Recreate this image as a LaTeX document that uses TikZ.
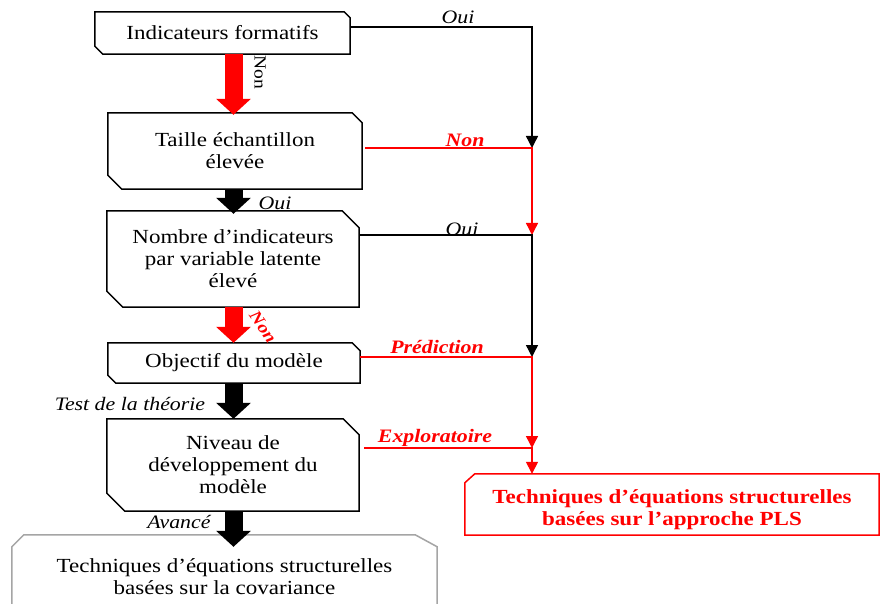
\documentclass[tikz,border=0pt]{standalone}
\usepackage{fontspec}
\setmainfont{Liberation Serif}[FakeStretch=1.15]
\usetikzlibrary{arrows.meta,calc}
\newcommand\boxfont{\fontsize{20}{22}\selectfont}
\newcommand\labfont{\fontsize{19}{20}\selectfont}
\newcommand\chamfbox[3]{%
  \draw[outline] (#1.north west) -- ($(#1.north east)+(-#2,0)$) -- ($(#1.north east)+(0,#2)$)
    -- (#1.south east) -- ($(#1.south west)+(#3,0)$) -- ($(#1.south west)+(0,-#3)$) -- cycle;}
\definecolor{boxgray}{RGB}{165,165,165}
\begin{document}
\begin{tikzpicture}[x=1pt,y=-1pt,
  box/.style={rectangle, inner sep=0pt, align=center, font=\boxfont},
  outline/.style={line width=1.5pt, line join=miter},
  lab/.style={inner sep=0pt, font=\labfont\itshape},
  redlab/.style={inner sep=0pt, font=\labfont\bfseries\itshape, text=red},
  thinarr/.style={line width=1.4pt, -{Triangle[width=12pt,length=12pt]}},
  blockarr/.style={line width=18pt, -{Triangle[width=34pt,length=16pt]}}]
\clip (0,0) rectangle (881,604);
\fill[white] (0,0) rectangle (881,604);

% boxes
\node[box, minimum width=255pt, minimum height=42pt] (b1) at (222.5,33) {Indicateurs formatifs};
\node[box, minimum width=254pt, minimum height=76pt] (b2) at (235,151) {Taille échantillon\\élevée};
\node[box, minimum width=252pt, minimum height=96pt] (b3) at (233,259) {Nombre d’indicateurs\\par variable latente\\élevé};
\node[box, minimum width=252pt, minimum height=40pt] (b4) at (234,363) {Objectif du modèle};
\node[box, minimum width=252pt, minimum height=92pt] (b5) at (233,465) {Niveau de\\développement du\\modèle};
\node[box, minimum width=425pt, minimum height=83pt] (b6) at (224.5,576.5) {Techniques d’équations structurelles\\basées sur la covariance};
\node[box, minimum width=414pt, minimum height=61pt, text=red, font=\boxfont\bfseries] (b7) at (672,504.5) {\rule{0pt}{25pt}Techniques d’équations structurelles\\basées sur l’approche PLS};

\chamfbox{b1}{6}{8}
\chamfbox{b2}{10}{14}
\chamfbox{b3}{17}{16}
\chamfbox{b4}{8}{8}
\chamfbox{b5}{16}{18}
\draw[outline, boxgray] (b6.south west) -- ($(b6.north west)+(0,12)$) -- ($(b6.north west)+(12,0)$)
  -- ($(b6.north east)+(-22,0)$) -- ($(b6.north east)+(0,12)$) -- (b6.south east) -- cycle;
\draw[outline, red] ($(b7.north west)+(0,9)$) -- ($(b7.north west)+(10,0)$) -- (b7.north east)
  -- (b7.south east) -- (b7.south west) -- cycle;

% block arrows
\coordinate (ax) at (233.5,0);
\draw[blockarr, red] (b1.south -| ax) -- ($(b2.north -| ax)+(0,2)$);
\draw[blockarr, black] (b2.south -| ax) -- ($(b3.north -| ax)+(0,3)$);
\draw[blockarr, red] (b3.south -| ax) -- (b4.north -| ax);
\draw[blockarr, black] (b4.south -| ax) -- (b5.north -| ax);
\draw[blockarr, black] (b5.south -| ax) -- ($(b6.north -| ax)+(0,12)$);

% right-hand connectors
\coordinate (c1) at (532,27);
\coordinate (j1) at (532,148);
\coordinate (j2) at (532,235);
\coordinate (j3) at (532,357);
\coordinate (j4) at (532,448);
\draw[thinarr, black] (c1 -| b1.east) -- (c1) -- (j1);
\draw[thinarr, red] ($(j1 -| b2.east)+(3,0)$) -- (j1) -- (j2);
\draw[thinarr, black] (j2 -| b3.east) -- (j2) -- (j3);
\draw[thinarr, red] (j3 -| b4.east) -- (j3) -- (j4);
\draw[thinarr, red] ($(j4 -| b5.east)+(5,0)$) -- (j4) -- (j4 |- b7.north);

% labels
\node[lab] (l1) at (458,17) {Oui};
\node[redlab] (l2) at (465,140) {Non};
\node[lab] (l3) at (462,229) {Oui};
\node[redlab] (l4) at (437,347) {Prédiction};
\node[redlab] (l5) at (435,438) {Exploratoire};
\node[lab] (l6) at (275,203) {Oui};
\node[lab] (l7) at (130,404) {Test de la théorie};
\node[lab] (l8) at (179,522) {Avancé};
\node[inner sep=0pt, font=\fontsize{17}{17}\selectfont, rotate=-90] (l9) at (260,72) {Non};
\node[inner sep=0pt, font=\fontsize{17}{18}\selectfont\bfseries\itshape, text=red, rotate=-55] (l10) at (263,327) {Non};
\end{tikzpicture}
\end{document}
